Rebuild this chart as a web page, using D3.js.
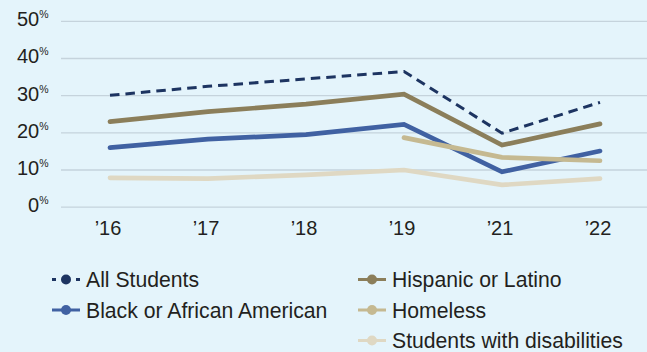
<!DOCTYPE html>
<html>
<head>
<meta charset="utf-8">
<script src="https://cdn.jsdelivr.net/npm/d3@7"></script>
<style>
html,body{margin:0;padding:0;background:#e4f4fb;}
svg{display:block;}
text{font-family:"Liberation Sans",Arial,Helvetica,sans-serif;fill:#231f20;}
</style>
</head>
<body>
<svg id="chart" width="647" height="352"></svg>
<script>
const years = ["’16","’17","’18","’19","’21","’22"];
const yTicks = [0,10,20,30,40,50];
const allStudents = [30.1,32.5,34.5,36.5,19.9,28.2];
const hispanic = [23.0,25.7,27.7,30.4,16.7,22.4];
const black = [16.0,18.3,19.5,22.3,9.5,15.1];
const homeless = [null,null,null,18.7,13.4,12.5];
const disabilities = [7.9,7.7,8.7,10.0,6.0,7.7];

const series = [
  {name:"All Students", values:allStudents, color:"#1d3461", width:3, dash:"9.5,6"},
  {name:"Hispanic or Latino", values:hispanic, color:"#8b7e5a", width:4.7},
  {name:"Black or African American", values:black, color:"#4061a2", width:4.7},
  {name:"Homeless", values:homeless, color:"#c5b991", width:4.7},
  {name:"Students with disabilities", values:disabilities, color:"#dfd8c3", width:4.7}
];
const drawOrder = ["Students with disabilities","Black or African American","Homeless","Hispanic or Latino","All Students"];

const svg = d3.select("#chart");
svg.append("rect").attr("width",647).attr("height",352).attr("fill","#e4f4fb");

const x = d3.scalePoint().domain(years).range([110,600]);
const y = d3.scaleLinear().domain([0,50]).range([207.2,21.3]);

// gridlines
svg.append("g").selectAll("line").data(yTicks).join("line")
  .attr("x1",61).attr("x2",647)
  .attr("y1",d=>y(d)).attr("y2",d=>y(d))
  .attr("stroke","#c5d3dc").attr("stroke-width",1.3);

// y labels
const yl = svg.append("g").selectAll("text").data(yTicks).join("text")
  .attr("x",48.5).attr("y",d=>y(d)+5)
  .attr("text-anchor","end").attr("font-size",20);
yl.append("tspan").text(d=>d);
yl.append("tspan").attr("font-size",10.5).attr("dy",-8).text("%");

// x labels
svg.append("g").selectAll("text").data(years).join("text")
  .attr("x",d=>x(d)-2).attr("y",234.5)
  .attr("text-anchor","middle").attr("font-size",20)
  .text(d=>d);

// lines
const line = d3.line()
  .defined(d=>d.v!=null)
  .x(d=>x(d.k)).y(d=>y(d.v));
drawOrder.forEach(n=>{
  const s = series.find(s=>s.name===n);
  svg.append("path")
    .datum(years.map((k,i)=>({k, v:s.values[i]})))
    .attr("d",line)
    .attr("fill","none")
    .attr("stroke",s.color)
    .attr("stroke-width",s.width)
    .attr("stroke-linejoin","miter")
    .attr("stroke-linecap",s.dash?"butt":"round")
    .attr("stroke-dasharray",s.dash||null);
});

// legend
const legendPos = [
  {name:"All Students", x:52, y:279.5},
  {name:"Black or African American", x:52, y:310},
  {name:"Hispanic or Latino", x:358, y:279.5},
  {name:"Homeless", x:358, y:310},
  {name:"Students with disabilities", x:358, y:340.5}
];
const lg = svg.append("g").selectAll("g").data(legendPos).join("g")
  .attr("transform",d=>`translate(${d.x},${d.y})`);
lg.each(function(d){
  const s = series.find(s=>s.name===d.name);
  const g = d3.select(this);
  g.append("line").attr("x1",0).attr("x2",28).attr("y1",0).attr("y2",0)
    .attr("stroke",s.color).attr("stroke-width",3)
    .attr("stroke-dasharray",s.dash?"4,20":null);
  g.append("circle").attr("cx",14).attr("cy",0).attr("r",5).attr("fill",s.color);
  g.append("text").attr("x",34).attr("y",7.8).attr("font-size",21.2).text(d.name);
});
</script>
</body>
</html>
